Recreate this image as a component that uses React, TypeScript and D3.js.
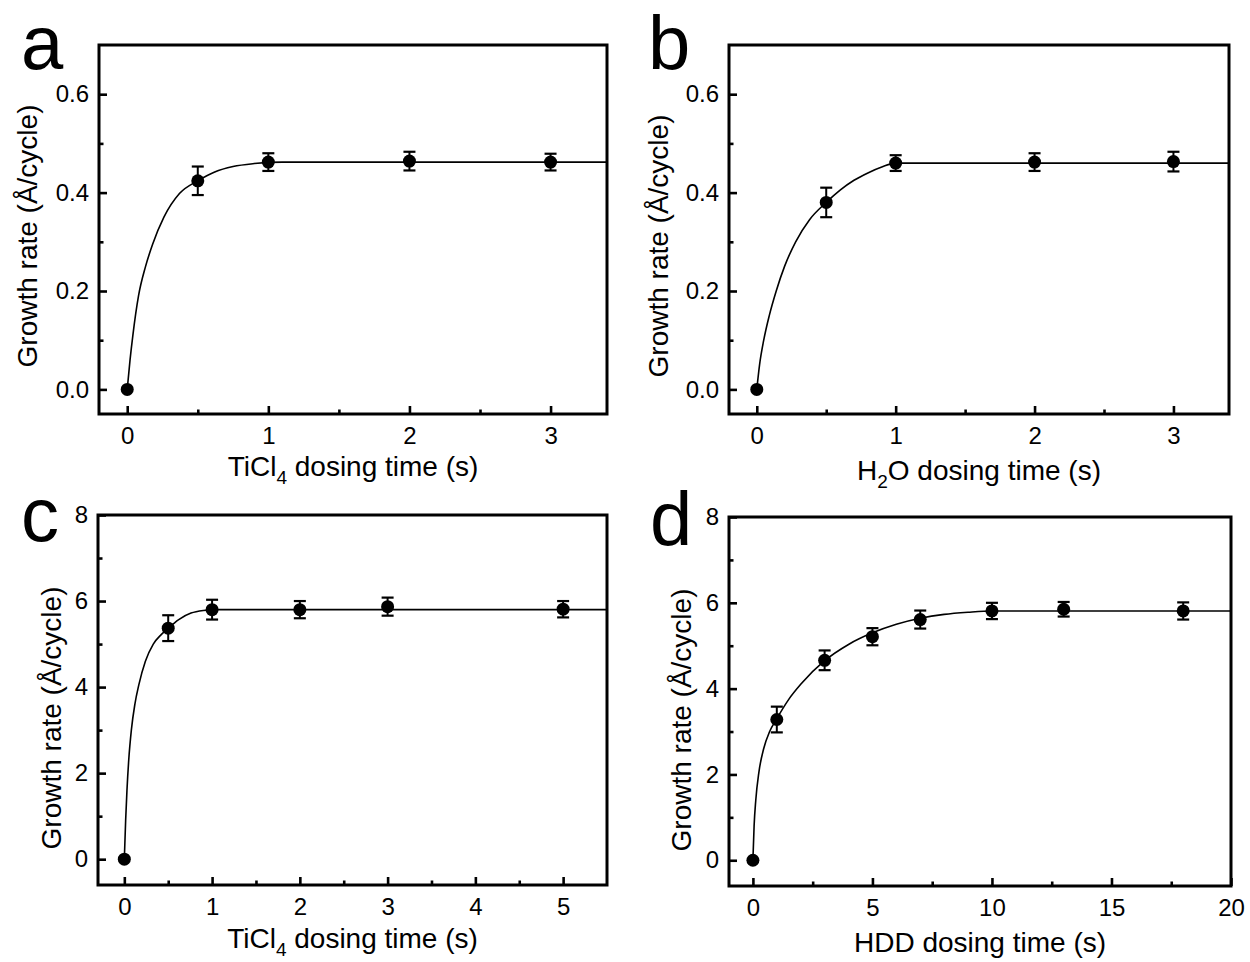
import { useEffect, useRef } from 'react';
import * as d3 from 'd3';

// a: TiCl4 dosing (first series)
const timeA = [0, 0.5, 1, 2, 3];
const rateA = [0, 0.424, 0.462, 0.464, 0.462];
const errA = [0, 0.029, 0.018, 0.019, 0.017];
const fitTimeA = [0, 0.02, 0.04, 0.08, 0.13, 0.18, 0.26, 0.37, 0.5, 0.62, 0.75, 0.9, 1.1, 3.4];
const fitRateA = [0, 0.06, 0.11, 0.19, 0.25, 0.295, 0.35, 0.398, 0.424, 0.442, 0.453, 0.459, 0.462, 0.462];

// b: H2O dosing
const timeB = [0, 0.5, 1, 2, 3];
const rateB = [0, 0.38, 0.46, 0.462, 0.463];
const errB = [0, 0.03, 0.016, 0.018, 0.02];
const fitTimeB = [0, 0.02, 0.05, 0.09, 0.14, 0.2, 0.28, 0.38, 0.5, 0.6, 0.7, 0.8, 0.9, 1.0, 3.4];
const fitRateB = [0, 0.05, 0.1, 0.15, 0.2, 0.25, 0.3, 0.345, 0.38, 0.405, 0.425, 0.44, 0.452, 0.46, 0.46];

// c: TiCl4 dosing (second series)
const timeC = [0, 0.5, 1, 2, 3, 5];
const rateC = [0, 5.37, 5.8, 5.8, 5.87, 5.81];
const errC = [0, 0.3, 0.23, 0.2, 0.21, 0.19];
const fitTimeC = [0, 0.015, 0.03, 0.05, 0.08, 0.12, 0.165, 0.24, 0.33, 0.42, 0.5, 0.62, 0.76, 0.9, 1.05, 5.5];
const fitRateC = [0, 0.9, 1.6, 2.3, 3.0, 3.6, 4.05, 4.6, 5.0, 5.22, 5.37, 5.57, 5.72, 5.78, 5.8, 5.8];

// d: HDD dosing
const timeD = [0, 1, 3, 5, 7, 10, 13, 18];
const rateD = [0, 3.28, 4.66, 5.21, 5.61, 5.81, 5.85, 5.81];
const errD = [0, 0.3, 0.23, 0.2, 0.21, 0.19, 0.17, 0.2];
const fitTimeD = [0, 0.05, 0.12, 0.25, 0.45, 0.7, 1.0, 1.5, 2.0, 3.0, 4.0, 5.0, 6.0, 7.0, 8.0, 9.0, 10.0, 20];
const fitRateD = [0, 0.8, 1.4, 2.05, 2.6, 3.0, 3.3, 3.75, 4.1, 4.65, 5.03, 5.3, 5.5, 5.64, 5.73, 5.78, 5.81, 5.81];

// ticks
const xMajorAB = [0, 1, 2, 3];
const xMinorAB = [0.5, 1.5, 2.5];
const yMajorAB = [0, 0.2, 0.4, 0.6];
const yMinorAB = [0.1, 0.3, 0.5];
const xMajorC = [0, 1, 2, 3, 4, 5];
const xMinorC = [0.5, 1.5, 2.5, 3.5, 4.5];
const xMajorD = [0, 5, 10, 15, 20];
const xMinorD = [2.5, 7.5, 12.5, 17.5];
const yMajorCD = [0, 2, 4, 6, 8];
const yMinorCD = [1, 3, 5, 7];

const FONT = '"Liberation Sans", Arial, Helvetica, sans-serif';

type Panel = {
  letter: string;
  letterX: number;
  letterY: number;
  box: [number, number, number, number]; // left, top, right, bottom
  xDomain: [number, number];
  yDomain: [number, number];
  time: number[];
  rate: number[];
  err: number[];
  fitTime: number[];
  fitRate: number[];
  xMajor: number[];
  xMinor: number[];
  yMajor: number[];
  yMinor: number[];
  yFmt: (d: number) => string;
  xTitle: [string, string, string]; // antes del subíndice, subíndice, después
  xTitleY: number;
  yTitleX: number;
  yTitleY: number;
};

const panels: Panel[] = [
  {
    letter: 'a', letterX: 21, letterY: 69, box: [99, 45, 607, 414],
    xDomain: [-0.2, 3.4], yDomain: [-0.05, 0.7],
    time: timeA, rate: rateA, err: errA, fitTime: fitTimeA, fitRate: fitRateA,
    xMajor: xMajorAB, xMinor: xMinorAB, yMajor: yMajorAB, yMinor: yMinorAB,
    yFmt: d3.format('.1f'), xTitle: ['TiCl', '4', ' dosing time (s)'], xTitleY: 476,
    yTitleX: 37, yTitleY: 236,
  },
  {
    letter: 'b', letterX: 648, letterY: 69, box: [729, 45, 1229, 414],
    xDomain: [-0.2, 3.4], yDomain: [-0.05, 0.7],
    time: timeB, rate: rateB, err: errB, fitTime: fitTimeB, fitRate: fitRateB,
    xMajor: xMajorAB, xMinor: xMinorAB, yMajor: yMajorAB, yMinor: yMinorAB,
    yFmt: d3.format('.1f'), xTitle: ['H', '2', 'O dosing time (s)'], xTitleY: 480,
    yTitleX: 668, yTitleY: 246,
  },
  {
    letter: 'c', letterX: 21, letterY: 541, box: [98, 515, 607, 885],
    xDomain: [-0.3, 5.5], yDomain: [-0.6, 8],
    time: timeC, rate: rateC, err: errC, fitTime: fitTimeC, fitRate: fitRateC,
    xMajor: xMajorC, xMinor: xMinorC, yMajor: yMajorCD, yMinor: yMinorCD,
    yFmt: d3.format('d'), xTitle: ['TiCl', '4', ' dosing time (s)'], xTitleY: 948,
    yTitleX: 61, yTitleY: 718,
  },
  {
    letter: 'd', letterX: 650, letterY: 545, box: [729, 517, 1231, 886],
    xDomain: [-1, 20], yDomain: [-0.6, 8],
    time: timeD, rate: rateD, err: errD, fitTime: fitTimeD, fitRate: fitRateD,
    xMajor: xMajorD, xMinor: xMinorD, yMajor: yMajorCD, yMinor: yMinorCD,
    yFmt: d3.format('d'), xTitle: ['HDD dosing time (s)', '', ''], xTitleY: 952,
    yTitleX: 691, yTitleY: 720,
  },
];

function drawPanel(svg: d3.Selection<SVGSVGElement, unknown, null, undefined>, p: Panel, idx: number) {
  const [left, top, right, bottom] = p.box;
  const x = d3.scaleLinear().domain(p.xDomain).range([left, right]);
  const y = d3.scaleLinear().domain(p.yDomain).range([bottom, top]);
  const g = svg.append('g');

  // recorte de la curva al marco
  const clipId = `clip-${idx}`;
  g.append('clipPath').attr('id', clipId)
    .append('rect').attr('x', left).attr('y', top).attr('width', right - left).attr('height', bottom - top);

  const fit = p.fitTime.map((t, i) => [t, p.fitRate[i]] as [number, number]);
  g.append('path')
    .datum(fit)
    .attr('clip-path', `url(#${clipId})`)
    .attr('d', d3.line<[number, number]>().x(d => x(d[0])).y(d => y(d[1])).curve(d3.curveMonotoneX))
    .attr('fill', 'none')
    .attr('stroke', '#000')
    .attr('stroke-width', 1.6);

  // barras de error
  p.time.forEach((t, i) => {
    const e = p.err[i];
    if (!e) return;
    const cx = x(t);
    const y1 = y(p.rate[i] - e);
    const y2 = y(p.rate[i] + e);
    g.append('line').attr('x1', cx).attr('x2', cx).attr('y1', y1).attr('y2', y2)
      .attr('stroke', '#000').attr('stroke-width', 2);
    [y1, y2].forEach(yy => {
      g.append('line').attr('x1', cx - 6).attr('x2', cx + 6).attr('y1', yy).attr('y2', yy)
        .attr('stroke', '#000').attr('stroke-width', 2.2);
    });
  });

  // puntos
  g.selectAll('circle.pt')
    .data(p.time.map((t, i) => [t, p.rate[i]]))
    .join('circle')
    .attr('class', 'pt')
    .attr('cx', d => x(d[0]))
    .attr('cy', d => y(d[1]))
    .attr('r', 6.5)
    .attr('fill', '#000');

  // ejes
  const styleAxis = (a: d3.Selection<SVGGElement, unknown, null, undefined>) => {
    a.select('.domain').remove();
    a.selectAll('.tick line').attr('stroke', '#000').attr('stroke-width', 2.6);
    a.selectAll('text').attr('font-family', FONT).attr('font-size', 24).attr('fill', '#000');
  };
  g.append('g').attr('transform', `translate(0,${bottom})`)
    .call(d3.axisBottom(x).tickValues(p.xMajor).tickSize(-8).tickPadding(13).tickFormat(d3.format('d')))
    .call(styleAxis);
  g.append('g').attr('transform', `translate(0,${bottom})`)
    .call(d3.axisBottom(x).tickValues(p.xMinor).tickSize(-4.5).tickFormat(() => ''))
    .call(styleAxis);
  g.append('g').attr('transform', `translate(${left},0)`)
    .call(d3.axisLeft(y).tickValues(p.yMajor).tickSize(-8).tickPadding(10).tickFormat(d => p.yFmt(d as number)))
    .call(styleAxis);
  g.append('g').attr('transform', `translate(${left},0)`)
    .call(d3.axisLeft(y).tickValues(p.yMinor).tickSize(-4.5).tickFormat(() => ''))
    .call(styleAxis);

  // marco
  g.append('rect')
    .attr('x', left).attr('y', top).attr('width', right - left).attr('height', bottom - top)
    .attr('fill', 'none').attr('stroke', '#000').attr('stroke-width', 3);

  // título eje X con subíndice
  const xt = g.append('text')
    .attr('x', (left + right) / 2)
    .attr('y', p.xTitleY)
    .attr('text-anchor', 'middle')
    .attr('font-family', FONT)
    .attr('font-size', 28)
    .attr('fill', '#000');
  xt.append('tspan').text(p.xTitle[0]);
  if (p.xTitle[1]) {
    xt.append('tspan').attr('dy', 8).attr('font-size', 19).text(p.xTitle[1]);
    xt.append('tspan').attr('dy', -8).text(p.xTitle[2]);
  }

  // título eje Y
  g.append('text')
    .attr('transform', `translate(${p.yTitleX},${p.yTitleY}) rotate(-90)`)
    .attr('text-anchor', 'middle')
    .attr('font-family', FONT)
    .attr('font-size', 28)
    .attr('fill', '#000')
    .text('Growth rate (Å/cycle)');

  // letra del panel
  g.append('text')
    .attr('x', p.letterX)
    .attr('y', p.letterY)
    .attr('font-family', FONT)
    .attr('font-size', 76)
    .attr('fill', '#000')
    .text(p.letter);
}

export default function App() {
  const ref = useRef<SVGSVGElement>(null);

  useEffect(() => {
    if (!ref.current) return;
    const svg = d3.select(ref.current);
    svg.selectAll('*').remove();
    panels.forEach((p, i) => drawPanel(svg, p, i));
  }, []);

  return (
    <svg
      ref={ref}
      width={1250}
      height={962}
      style={{ position: 'absolute', left: 0, top: 0, background: '#fff' }}
    />
  );
}
